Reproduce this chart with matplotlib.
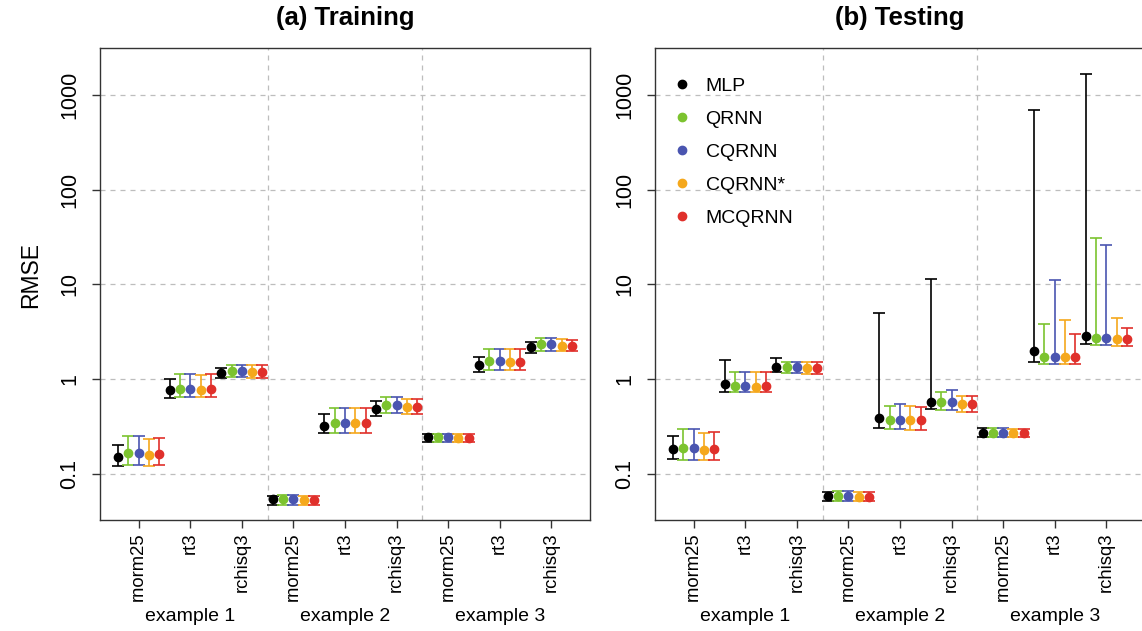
import numpy as np
import matplotlib
matplotlib.use("Agg")
import matplotlib.pyplot as plt
from matplotlib.lines import Line2D
from matplotlib.transforms import blended_transform_factory

plt.rcParams['font.family'] = ['Liberation Sans', 'DejaVu Sans']

# categories
dists = ["rnorm25", "rt3", "rchisq3"] * 3
examples = ["example 1", "example 2", "example 3"]
methods = ["MLP", "QRNN", "CQRNN", "CQRNN*", "MCQRNN"]
colors = ["#000000", "#7cc32f", "#4a55b0", "#f5a81c", "#e0302b"]

# training: point, lower, upper (one list per method, 9 categories each)
train_mid = [
    [0.150, 0.765, 1.15, 0.0546, 0.32, 0.48, 0.245, 1.40, 2.17],
    [0.166, 0.780, 1.21, 0.0546, 0.345, 0.53, 0.245, 1.55, 2.33],
    [0.166, 0.780, 1.21, 0.0546, 0.345, 0.53, 0.245, 1.55, 2.33],
    [0.158, 0.765, 1.18, 0.053, 0.345, 0.51, 0.240, 1.52, 2.25],
    [0.160, 0.780, 1.18, 0.053, 0.340, 0.51, 0.240, 1.52, 2.25],
]
train_lo = [
    [0.120, 0.636, 1.03, 0.047, 0.27, 0.41, 0.217, 1.19, 1.87],
    [0.124, 0.650, 1.06, 0.047, 0.27, 0.44, 0.217, 1.24, 1.98],
    [0.124, 0.650, 1.06, 0.047, 0.27, 0.44, 0.217, 1.24, 1.98],
    [0.120, 0.650, 1.03, 0.047, 0.27, 0.43, 0.217, 1.24, 1.96],
    [0.124, 0.650, 1.03, 0.047, 0.27, 0.43, 0.217, 1.24, 1.96],
]
train_hi = [
    [0.200, 0.99, 1.30, 0.058, 0.43, 0.59, 0.26, 1.70, 2.45],
    [0.250, 1.12, 1.40, 0.059, 0.495, 0.645, 0.26, 2.07, 2.70],
    [0.250, 1.12, 1.42, 0.059, 0.495, 0.645, 0.26, 2.07, 2.70],
    [0.233, 1.10, 1.40, 0.058, 0.495, 0.62, 0.26, 2.07, 2.65],
    [0.240, 1.12, 1.40, 0.058, 0.495, 0.62, 0.26, 2.07, 2.60],
]

# testing
test_mid = [
    [0.182, 0.885, 1.35, 0.0576, 0.386, 0.577, 0.272, 1.97, 2.84],
    [0.186, 0.850, 1.35, 0.0576, 0.370, 0.577, 0.272, 1.72, 2.72],
    [0.186, 0.850, 1.35, 0.0576, 0.370, 0.577, 0.272, 1.72, 2.72],
    [0.179, 0.830, 1.30, 0.056, 0.365, 0.545, 0.270, 1.72, 2.62],
    [0.182, 0.850, 1.30, 0.056, 0.365, 0.545, 0.270, 1.72, 2.62],
]
test_lo = [
    [0.143, 0.724, 1.19, 0.052, 0.307, 0.48, 0.247, 1.52, 2.33],
    [0.138, 0.724, 1.15, 0.051, 0.295, 0.47, 0.247, 1.44, 2.28],
    [0.138, 0.724, 1.15, 0.051, 0.295, 0.47, 0.247, 1.44, 2.28],
    [0.138, 0.724, 1.14, 0.051, 0.290, 0.45, 0.247, 1.44, 2.22],
    [0.138, 0.724, 1.14, 0.051, 0.290, 0.45, 0.247, 1.44, 2.22],
]
test_hi = [
    [0.253, 1.58, 1.65, 0.064, 5.04, 11.5, 0.305, 692, 1670],
    [0.295, 1.18, 1.52, 0.066, 0.52, 0.735, 0.305, 3.8, 30.7],
    [0.295, 1.18, 1.52, 0.066, 0.54, 0.766, 0.305, 11.2, 26.4],
    [0.270, 1.18, 1.50, 0.064, 0.52, 0.66, 0.300, 4.25, 4.46],
    [0.279, 1.20, 1.50, 0.064, 0.51, 0.66, 0.300, 3.03, 3.50],
]

offsets = [-0.4, -0.2, 0.0, 0.2, 0.4]
yticks = [0.1, 1, 10, 100, 1000]
ytick_labels = ["0.1", "1", "10", "100", "1000"]

W, H = 1142, 631
fig = plt.figure(figsize=(W / 100, H / 100), dpi=100)
ax1 = fig.add_axes([100 / W, 1 - 520 / H, 490 / W, 472 / H])
ax2 = fig.add_axes([655 / W, 1 - 520 / H, 490 / W, 472 / H])

def panel(ax, mid, lo, hi, title):
    x = np.arange(1, 10)
    ax.set_yscale('log')
    for yv in yticks:
        ax.axhline(yv, color='#bdbdbd', lw=0.9, ls=(0, (4, 4)), zorder=0)
    for xv in [3.5, 6.5]:
        ax.axvline(xv, color='#bdbdbd', lw=0.9, ls=(0, (4, 4)), zorder=0)
    for i in range(len(methods)):
        m = np.array(mid[i])
        err = [m - np.array(lo[i]), np.array(hi[i]) - m]
        ax.errorbar(x + offsets[i], m, yerr=err, fmt='o', color=colors[i],
                    ms=6, elinewidth=1.2, capsize=4.5, capthick=1.2, zorder=3)
    ax.set_xlim(0.25, 9.75)
    ax.set_ylim(10 ** -1.49, 10 ** 3.5)
    ax.set_xticks(x)
    ax.set_xticklabels(dists, rotation=90, fontsize=13.3)
    ax.set_yticks(yticks)
    ax.set_yticklabels(ytick_labels, rotation=90, va='center', fontsize=15.5)
    ax.yaxis.set_minor_locator(matplotlib.ticker.NullLocator())
    ax.tick_params(axis='y', length=6, width=1, pad=8, color='#333333')
    ax.tick_params(axis='x', length=6, width=1, pad=3, color='#333333')
    for s in ax.spines.values():
        s.set_color('#333333')
        s.set_linewidth(1.0)
    tr = blended_transform_factory(ax.transData, ax.transAxes)
    for k, ex in enumerate(examples):
        ax.text(2 + 3 * k, -0.204, ex, transform=tr, ha='center', va='center', fontsize=14)
    ax.text(0.5, 1.0 + 30 / 472, title, transform=ax.transAxes, ha='center', va='center',
            fontsize=18.5, fontweight='bold')

panel(ax1, train_mid, train_lo, train_hi, "(a) Training")
panel(ax2, test_mid, test_lo, test_hi, "(b) Testing")

ax1.set_ylabel("RMSE", fontsize=16.5)
ax1.yaxis.set_label_coords(-0.118, 0.52)

handles = [Line2D([], [], marker='o', ls='none', color=c, ms=6) for c in colors]
ax2.legend(handles, methods, loc='upper left', bbox_to_anchor=(0.0, 0.967), frameon=False,
           fontsize=14, labelspacing=0.79, handlelength=1.4, handletextpad=0.5,
           borderaxespad=0.3)

fig.savefig("out.png", dpi=100)
